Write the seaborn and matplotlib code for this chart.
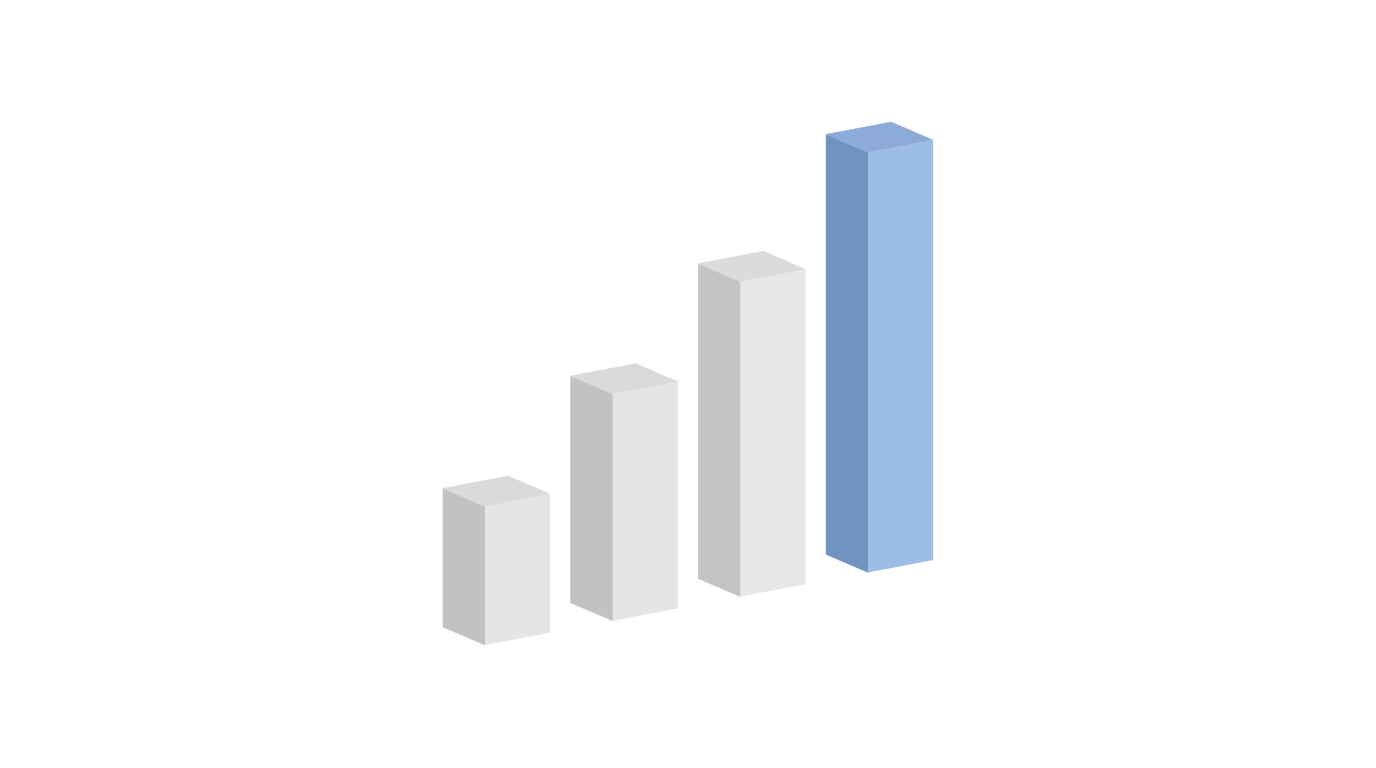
import matplotlib
matplotlib.use('Agg')
import matplotlib.pyplot as plt
from matplotlib.transforms import Affine2D
import pandas as pd
import seaborn as sns

# Chart data: the reference has no labels, so the categories are just placeholders
categories = ['A', 'B', 'C', 'D']
values = [33, 54, 75, 100]

# Face colours per bar
right_colors = ['#e5e5e5', '#e5e5e5', '#e7e7e7', '#9dbde9']
left_colors = ['#c2c2c2', '#c2c2c2', '#c4c4c4', '#7093bf']
top_colors = ['#dadada', '#dadada', '#dbdbdb', '#8cabd9']

# Scale of the drawing, in pixels
px_per_cat = 127.7
px_per_val = 4.2
bar_px = 65
origin_x = 517.5   # centre of the first bar
origin_y = 645     # front corner of the first bar, from the top
rise = 0.1895      # slope of the row of bars
left_dx, left_dy = 42, 18   # left depth of a bar, as seen on the image

sns.set_theme(style='white')
fig = plt.figure(figsize=(13.76, 7.68), dpi=100)
ax = fig.add_axes([0, 0, 1, 1])

df = pd.DataFrame({'category': categories, 'value': values})
sns.barplot(data=df, x='category', y='value', hue='category', palette=right_colors,
            width=bar_px / px_per_cat, saturation=1, legend=False, ax=ax,
            linewidth=0, zorder=3)

ax.set_xlim(-origin_x / px_per_cat, (1376 - origin_x) / px_per_cat)
ax.set_ylim(-(768 - origin_y) / px_per_val, origin_y / px_per_val)
ax.axis('off')

# Shear in data units so the row climbs to the right
k = rise * px_per_cat / px_per_val
x0 = -bar_px / px_per_cat / 2
shear = Affine2D.from_values(1, k, 0, 1, 0, -k * x0)

# Depth vectors in data units (before the shear)
lx = -left_dx / px_per_cat
ly = (left_dy + rise * left_dx) / px_per_val
rx = bar_px / px_per_cat

bars = ax.patches[:len(values)]
for i, bar in enumerate(bars):
    bar.set_transform(shear + ax.transData)
    fx, h = bar.get_x(), bar.get_height()

    # Left face, from the front edge of the bar
    ax.fill([fx + lx, fx, fx, fx + lx], [ly, 0, h, h + ly],
            color=left_colors[i], lw=0.4, zorder=2, transform=shear + ax.transData)
    # Top face
    ax.fill([fx, fx + lx, fx + lx + rx, fx + rx], [h, h + ly, h + ly, h],
            color=top_colors[i], lw=0.4, zorder=2, transform=shear + ax.transData)

fig.savefig('out.png', dpi=100, facecolor='white')
